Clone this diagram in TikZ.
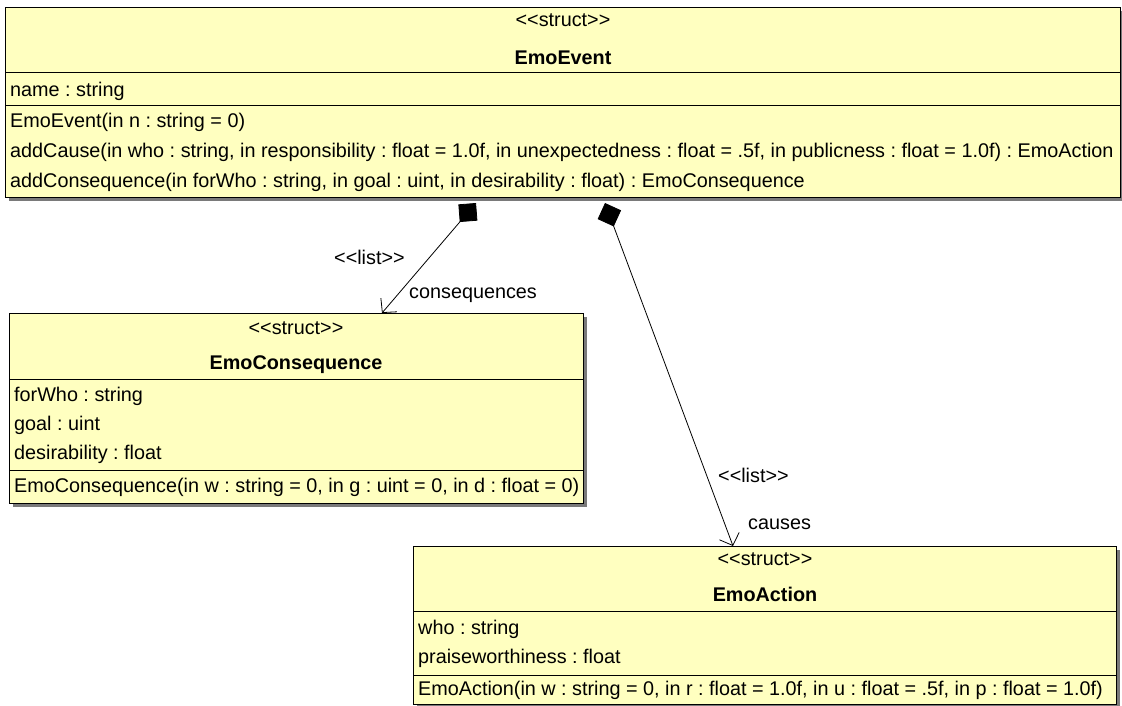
\documentclass[tikz,border=0pt]{standalone}
\usepackage{fontspec}
\setmainfont{Liberation Sans}
\usetikzlibrary{arrows.meta}
\definecolor{umlfill}{HTML}{FFFFC0}
\definecolor{umlshadow}{HTML}{7A7A7A}
\frenchspacing
\begin{document}
\begin{tikzpicture}[x=1pt,y=-1pt,
  box/.style={draw=black, line width=1pt, fill=umlfill, rectangle,
    anchor=north west, inner sep=0pt},
  shadowbox/.style={fill=umlshadow, draw=none, rectangle,
    anchor=north west, inner sep=0pt},
  lbl/.style={inner sep=0pt, font=\fontsize{19.8}{21}\selectfont},
  row/.style={lbl, anchor=base west},
  stereo/.style={lbl, anchor=base},
  cname/.style={lbl, anchor=base, font=\fontsize{19.8}{21}\selectfont\bfseries},
  divider/.style={draw=black, line width=1pt},
  assoc/.style={draw=black, line width=0.8pt,
    {Diamond[length=25pt,width=25pt,fill=black]}-{Straight Barb[length=10pt,width=21pt]}},
  alabel/.style={lbl, anchor=base west}]

\useasboundingbox (0,0) rectangle (1122,705);
\fill[white] (0,0) rectangle (1122,705);

% ---------- EmoEvent ----------
\node[shadowbox, minimum width=1115pt, minimum height=190pt] (evsh) at (9,11) {};
\node[box, minimum width=1115pt, minimum height=190pt] (ev) at (5,7) {};
\draw[divider] (5,72) -- (1120,72);
\draw[divider] (5,105) -- (1120,105);
\node[stereo] (evst) at (563,26) {<{}<struct>{}>};
\node[cname]  (evnm) at (563,64) {EmoEvent};
\node[row] (eva1) at (10,96) {name : string};
\node[row] (evo1) at (10,127) {EmoEvent(in n : string = 0)};
\node[row] (evo2) at (10,157) {addCause(in who : string, in responsibility : float = 1.0f, in unexpectedness : float = .5f, in publicness : float = 1.0f) : EmoAction};
\node[row] (evo3) at (10,187) {addConsequence(in forWho : string, in goal : uint, in desirability : float) : EmoConsequence};

% ---------- EmoConsequence ----------
\node[shadowbox, minimum width=574pt, minimum height=190pt] (cosh) at (13,317) {};
\node[box, minimum width=574pt, minimum height=190pt] (cons) at (9,313) {};
\draw[divider] (9,379) -- (583,379);
\draw[divider] (9,470) -- (583,470);
\node[stereo] (cost) at (296,334) {<{}<struct>{}>};
\node[cname]  (conm) at (296,369) {EmoConsequence};
\node[row] (coa1) at (14,401) {forWho : string};
\node[row] (coa2) at (14,430) {goal : uint};
\node[row] (coa3) at (14,459) {desirability : float};
\node[row] (coo1) at (14,492) {EmoConsequence(in w : string = 0, in g : uint = 0, in d : float = 0)};

% ---------- EmoAction ----------
\node[shadowbox, minimum width=703pt, minimum height=158pt] (acsh) at (417,550) {};
\node[box, minimum width=703pt, minimum height=158pt] (act) at (413,546) {};
\draw[divider] (413,611) -- (1116,611);
\draw[divider] (413,675) -- (1116,675);
\node[stereo] (acst) at (765,565) {<{}<struct>{}>};
\node[cname]  (acnm) at (765,601) {EmoAction};
\node[row] (aca1) at (418,634) {who : string};
\node[row] (aca2) at (418,663) {praiseworthiness : float};
\node[row] (aco1) at (418,695) {EmoAction(in w : string = 0, in r : float = 1.0f, in u : float = .5f, in p : float = 1.0f)};

% ---------- composition links ----------
\draw[assoc] ([xshift=471pt,yshift=-5pt]ev.south west) -- ([xshift=373pt]cons.north west);
\draw[assoc] ([xshift=600pt,yshift=-5pt]ev.south west) -- ([xshift=320pt]act.north west);

\node[alabel] (l1s) at (334,264) {<{}<list>{}>};
\node[alabel] (l1r) at (409,298) {consequences};
\node[alabel] (l2s) at (718,482) {<{}<list>{}>};
\node[alabel] (l2r) at (748,529) {causes};

\end{tikzpicture}
\end{document}
